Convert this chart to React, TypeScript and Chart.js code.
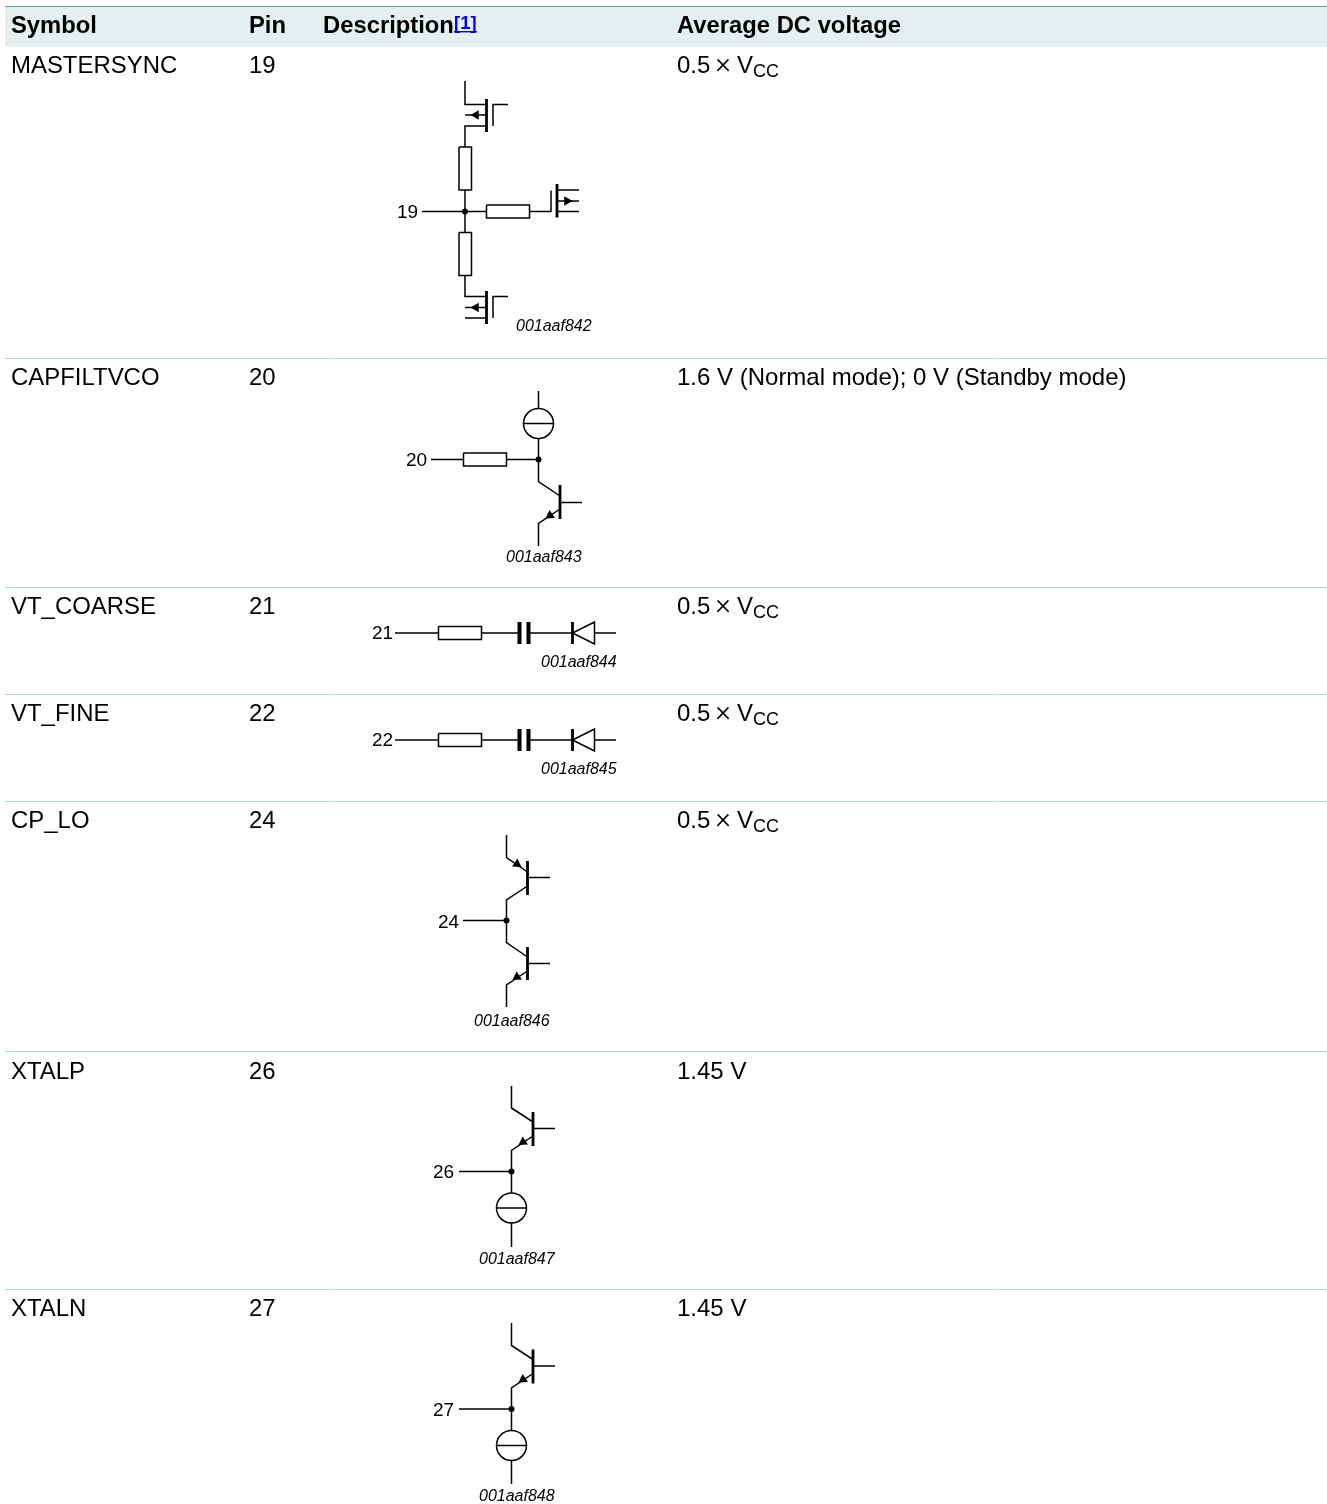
import React, { useEffect, useRef } from "react";
import { Chart, registerables } from "chart.js";

Chart.register(...registerables);

type Pt = [number, number];

const WIDTH = 1327;
const HEIGHT = 1504;

const headerLabels = ["Symbol", "Pin", "Description", "Average DC voltage"];
const footnoteMark = "[1]";
const columnX = [11, 249, 323, 677];
const rowSymbols = ["MASTERSYNC", "CAPFILTVCO", "VT_COARSE", "VT_FINE", "CP_LO", "XTALP", "XTALN"];
const rowPins = ["19", "20", "21", "22", "24", "26", "27"];
const rowVoltages = ["0.5|VCC", "1.6 V (Normal mode); 0 V (Standby mode)", "0.5|VCC", "0.5|VCC", "0.5|VCC", "1.45 V", "1.45 V"];
const rowBaselines = [72.5, 384.5, 613.5, 720.5, 827.5, 1078.5, 1315.5];
const separatorY = [358.5, 587.5, 694.5, 801.5, 1051.5, 1289.5];
const pinLabelX = [397, 406, 372, 372, 438, 433, 433];
const pinLabelY = [218, 466, 639, 746, 928, 1178, 1416];
const figureCodes = ["001aaf842", "001aaf843", "001aaf844", "001aaf845", "001aaf846", "001aaf847", "001aaf848"];
const figureCodeX = [516, 506, 541, 541, 474, 479, 479];
const figureCodeY = [331, 562, 667, 774, 1026, 1264, 1501];

const wires: Pt[][] = [
  // MASTERSYNC
  [[465, 81], [465, 104.5], [486, 104.5]],
  [[465, 115], [486, 115]],
  [[486, 126], [465, 126], [465, 147]],
  [[493, 126], [493, 104.5], [508, 104.5]],
  [[459, 147], [471.5, 147], [471.5, 190], [459, 190], [459, 147]],
  [[465, 190], [465, 232.5]],
  [[459, 232.5], [471.5, 232.5], [471.5, 275.5], [459, 275.5], [459, 232.5]],
  [[465, 275.5], [465, 296.5], [486, 296.5]],
  [[465, 307.5], [486, 307.5]],
  [[465, 318], [486, 318]],
  [[493, 318], [493, 296.5], [508, 296.5]],
  [[422, 211.5], [486.5, 211.5]],
  [[486.5, 205], [529.5, 205], [529.5, 218], [486.5, 218], [486.5, 205]],
  [[529.5, 211.5], [551, 211.5], [551, 190.5]],
  [[557, 190], [579, 190]],
  [[557, 201], [579, 201]],
  [[557, 211.5], [579, 211.5]],
  // CAPFILTVCO
  [[538.5, 391], [538.5, 408]],
  [[523.5, 423.5], [553.5, 423.5]],
  [[538.5, 438.5], [538.5, 481.5], [560, 496]],
  [[560, 502.5], [582, 502.5]],
  [[560, 509], [538.5, 523.5], [538.5, 546]],
  [[431, 459.5], [463.5, 459.5]],
  [[463.5, 453], [506.5, 453], [506.5, 466], [463.5, 466], [463.5, 453]],
  [[506.5, 459.5], [538.5, 459.5]],
  // VT_COARSE
  [[395, 633], [438.5, 633]],
  [[438.5, 626.5], [481.5, 626.5], [481.5, 639.5], [438.5, 639.5], [438.5, 626.5]],
  [[481.5, 633], [519, 633]],
  [[528, 633], [572.5, 633]],
  [[572.5, 633], [594.5, 622], [594.5, 644], [572.5, 633]],
  [[594.5, 633], [616, 633]],
  // VT_FINE
  [[395, 740], [438.5, 740]],
  [[438.5, 733.5], [481.5, 733.5], [481.5, 746.5], [438.5, 746.5], [438.5, 733.5]],
  [[481.5, 740], [519, 740]],
  [[528, 740], [572.5, 740]],
  [[572.5, 740], [594.5, 729], [594.5, 751], [572.5, 740]],
  [[594.5, 740], [616, 740]],
  // CP_LO
  [[506.5, 835], [506.5, 857.5], [527.5, 872]],
  [[527.5, 877.5], [550, 877.5]],
  [[527.5, 886], [506.5, 900], [506.5, 942.5], [527.5, 957]],
  [[527.5, 963.5], [550, 963.5]],
  [[527.5, 971], [506.5, 985], [506.5, 1007]],
  [[463, 920.5], [506.5, 920.5]],
  // XTALP
  [[511.5, 1086], [511.5, 1108], [533, 1122]],
  [[533, 1128.5], [555, 1128.5]],
  [[533, 1136], [511.5, 1150.5], [511.5, 1192.5]],
  [[459, 1171.5], [511.5, 1171.5]],
  [[497, 1208], [527, 1208]],
  [[511.5, 1223], [511.5, 1247]],
  // XTALN
  [[511.5, 1323], [511.5, 1345.5], [533, 1359.5]],
  [[533, 1366], [555, 1366]],
  [[533, 1373.5], [511.5, 1388], [511.5, 1430.5]],
  [[459, 1409], [511.5, 1409]],
  [[497, 1445.5], [527, 1445.5]],
  [[511.5, 1460.5], [511.5, 1484]],
];

const thickBars: Pt[][] = [
  [[486.5, 99], [486.5, 132]],
  [[486.5, 291], [486.5, 324]],
  [[557, 184], [557, 217.5]],
  [[560, 485], [560, 519]],
  [[572.5, 622], [572.5, 644]],
  [[572.5, 729], [572.5, 751]],
  [[527.5, 861], [527.5, 895]],
  [[527.5, 947], [527.5, 980]],
  [[533, 1112], [533, 1146]],
  [[533, 1349.5], [533, 1383.5]],
];

const capacitorPlates: Pt[][] = [
  [[519.5, 622], [519.5, 644]],
  [[528.5, 622], [528.5, 644]],
  [[519.5, 729], [519.5, 751]],
  [[528.5, 729], [528.5, 751]],
];

const junctions: Pt[] = [[465, 211.5], [538.5, 459.5], [506.5, 920.5], [511.5, 1171.5], [511.5, 1409]];
const currentSources: Pt[] = [[538.5, 423.5], [511.5, 1208], [511.5, 1445.5]];
const arrowHeads: Pt[] = [[476, 115], [476, 307.5], [567, 201], [550, 515.5], [517, 864], [517, 977], [523, 1142], [523, 1379.5]];
const arrowAngles = [-90, -90, 90, 236, 124, 236, 236, 236];

const rows: Pt[] = separatorY.flatMap((y) => [[5, y], [WIDTH, y], [NaN, NaN]] as Pt[]);
const toData = (paths: Pt[][]) =>
  paths.flatMap((p) => [...p.map(([x, y]) => ({ x, y })), { x: null as any, y: null as any }]);
const dots = (pts: Pt[]) => pts.map(([x, y]) => ({ x, y }));

const SANS = '"Liberation Sans", Arial, sans-serif';

const textPlugin = {
  id: "tableText",
  afterDraw(chart: any) {
    const { ctx, scales } = chart;
    const px = (v: number) => scales.x.getPixelForValue(v);
    const py = (v: number) => scales.y.getPixelForValue(v);
    const put = (s: string, x: number, y: number, font: string, color = "#000") => {
      ctx.font = font;
      ctx.fillStyle = color;
      ctx.fillText(s, px(x), py(y));
    };
    ctx.save();
    ctx.textBaseline = "alphabetic";
    ctx.textAlign = "left";
    headerLabels.forEach((s, i) => put(s, columnX[i], 33, `bold 23.8px ${SANS}`));
    put(footnoteMark, 454, 29, `bold 18.5px ${SANS}`, "#0000e6");
    ctx.fillStyle = "#0000e6";
    ctx.fillRect(px(454), py(31), 23, 1.4);
    rowSymbols.forEach((s, i) => put(s, columnX[0], rowBaselines[i], `23.95px ${SANS}`));
    rowPins.forEach((s, i) => put(s, columnX[1], rowBaselines[i], `23.95px ${SANS}`));
    rowVoltages.forEach((s, i) => {
      const y = rowBaselines[i];
      if (s.includes("|")) {
        const [n, sym] = s.split("|");
        put(n, columnX[3], y, `24px ${SANS}`);
        put("×", 715.5, y + 0.5, `300 29px Roboto, ${SANS}`);
        put(sym[0], 737, y, `24px ${SANS}`);
        put(sym.slice(1), 753, y + 4, `18px ${SANS}`);
      } else {
        put(s, columnX[3], y, `24px ${SANS}`);
      }
    });
    rowPins.forEach((s, i) => put(s, pinLabelX[i], pinLabelY[i], `19px ${SANS}`));
    figureCodes.forEach((s, i) => put(s, figureCodeX[i], figureCodeY[i], `italic 16px ${SANS}`));
    ctx.restore();
  },
};

export default function App() {
  const ref = useRef<HTMLCanvasElement | null>(null);
  useEffect(() => {
    document.body.style.margin = "0";
    const lineBase = { showLine: true, pointRadius: 0, borderColor: "#000", tension: 0, spanGaps: false, clip: false as any, borderCapStyle: "butt" as const, borderJoinStyle: "miter" as const };
    const chart = new Chart(ref.current as HTMLCanvasElement, {
      type: "scatter",
      data: {
        datasets: [
          { ...lineBase, order: 10, borderColor: "#e4f0f0", borderWidth: 40, data: dots([[5, 27], [WIDTH, 27]]) },
          { ...lineBase, order: 9, borderColor: "#4a9fb5", borderWidth: 1.2, data: dots([[5, 6.5], [WIDTH, 6.5]]) },
          { ...lineBase, order: 9, borderColor: "#b4d7dc", borderWidth: 1, data: rows.map(([x, y]) => (isNaN(x) ? { x: null as any, y: null as any } : { x, y })) },
          { ...lineBase, order: 5, borderWidth: 1.5, data: toData(wires) },
          { ...lineBase, order: 4, borderWidth: 2.8, data: toData(thickBars) },
          { ...lineBase, order: 4, borderWidth: 4, data: toData(capacitorPlates) },
          { showLine: false, order: 3, clip: false as any, pointStyle: "circle", pointRadius: 15, pointBorderColor: "#000", pointBorderWidth: 1.5, pointBackgroundColor: "rgba(0,0,0,0)", data: dots(currentSources) },
          { showLine: false, order: 2, clip: false as any, pointStyle: "circle", pointRadius: 3, pointBorderWidth: 0, pointBackgroundColor: "#000", data: dots(junctions) },
          { showLine: false, order: 1, clip: false as any, pointStyle: "triangle", pointRadius: 5.5, pointBorderWidth: 0, pointBackgroundColor: "#000", pointRotation: arrowAngles, data: dots(arrowHeads) },
        ] as any,
      },
      options: {
        animation: false,
        responsive: false,
        devicePixelRatio: 1,
        layout: { padding: 0, autoPadding: false },
        plugins: { legend: { display: false }, tooltip: { enabled: false } },
        scales: {
          x: { type: "linear", min: 0, max: WIDTH, display: false },
          y: { type: "linear", min: 0, max: HEIGHT, reverse: true, display: false },
        },
      },
      plugins: [textPlugin],
    });
    return () => chart.destroy();
  }, []);
  return <canvas ref={ref} width={WIDTH} height={HEIGHT} style={{ display: "block", width: WIDTH, height: HEIGHT }} />;
}
